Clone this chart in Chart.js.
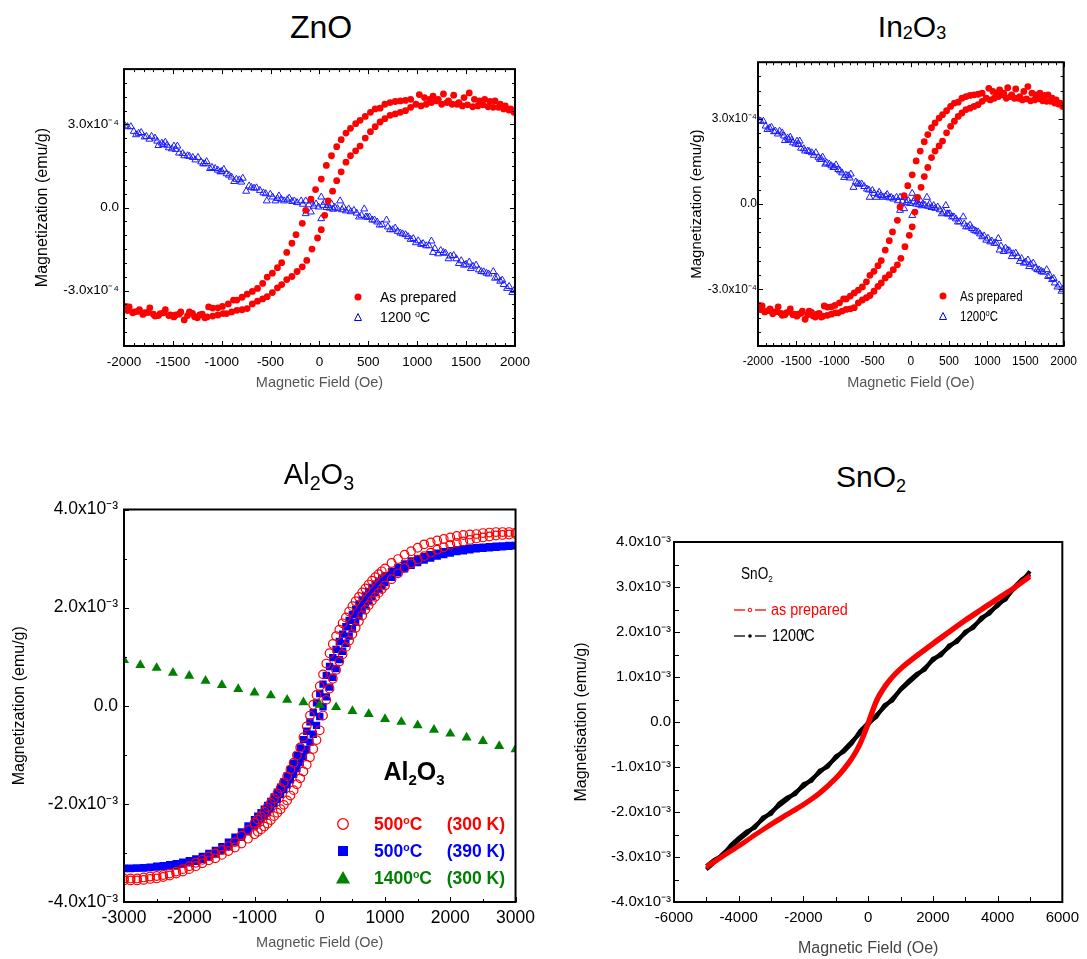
<!DOCTYPE html>
<html>
<head>
<meta charset="utf-8">
<title>Magnetization loops</title>
<script src="https://cdn.jsdelivr.net/npm/chart.js@4.4.1/dist/chart.umd.min.js"></script>
<style>
  html, body { margin: 0; background: #fff; }
  body { position: relative; width: 1087px; height: 959px; overflow: hidden;
         font-family: Arial, "Liberation Sans", sans-serif; color: #000; }
  canvas { position: absolute; }
  .lbl { position: absolute; white-space: nowrap; }
  .ttl { position: absolute; white-space: nowrap; line-height: 1; transform: translateX(-50%); }
  sub, sup { position: relative; vertical-align: baseline; line-height: 0; }
  svg.mk { position: absolute; overflow: visible; }
</style>
</head>
<body>
<canvas id="cZnO"></canvas>
<canvas id="cIn"></canvas>
<canvas id="cAl"></canvas>
<canvas id="cSn"></canvas>

<!-- panel titles -->
<div class="ttl" style="left:321px;top:11px;font-size:32px">ZnO</div>
<div class="ttl" style="left:912px;top:12px;font-size:30px">In<sub style="font-size:.6em;top:.12em">2</sub>O<sub style="font-size:.6em;top:.12em">3</sub></div>
<div class="ttl" style="left:319px;top:460px;font-size:29px">Al<sub style="font-size:.68em;top:.28em">2</sub>O<sub style="font-size:.68em;top:.28em">3</sub></div>
<div class="ttl" style="left:871px;top:462px;font-size:30px">SnO<sub style="font-size:.6em;top:.25em">2</sub></div>

<!-- ZnO legend -->
<svg class="mk" style="left:354px;top:293px" width="8" height="8"><circle cx="4" cy="4" r="3.5" fill="#f00"/></svg>
<div class="lbl" style="left:380px;top:288px;font-size:14px;line-height:18px">As prepared</div>
<svg class="mk" style="left:354px;top:313px" width="8" height="8"><polygon points="4,0.5 7.5,7.5 0.5,7.5" fill="none" stroke="#00f" stroke-width="1"/></svg>
<div class="lbl" style="left:380px;top:308px;font-size:14px;line-height:18px">1200 <sup style="font-size:.65em;top:-.55em">o</sup>C</div>

<!-- In2O3 legend -->
<svg class="mk" style="left:939px;top:292px" width="8" height="8"><circle cx="4" cy="4" r="3.5" fill="#f00"/></svg>
<div class="lbl" style="left:960px;top:287px;font-size:14px;line-height:18px;transform:scaleX(.82);transform-origin:left">As prepared</div>
<svg class="mk" style="left:939px;top:312px" width="8" height="8"><polygon points="4,0.5 7.5,7.5 0.5,7.5" fill="none" stroke="#00f" stroke-width="1"/></svg>
<div class="lbl" style="left:960px;top:307px;font-size:14px;line-height:18px;transform:scaleX(.82);transform-origin:left">1200<sup style="font-size:.65em;top:-.55em">o</sup>C</div>

<!-- Al2O3 legend -->
<div class="ttl" style="left:414px;top:759px;font-size:25px;font-weight:bold">Al<sub style="font-size:.6em;top:.35em">2</sub>O<sub style="font-size:.6em;top:.35em">3</sub></div>
<svg class="mk" style="left:337px;top:818px" width="12" height="12"><circle cx="6" cy="6" r="5.3" fill="none" stroke="#f00" stroke-width="1.3"/></svg>
<div class="lbl" style="left:374px;top:814px;font-size:17.5px;line-height:20px;font-weight:bold;color:#f00">500<sup style="font-size:.6em;top:-.6em">o</sup>C</div>
<div class="lbl" style="right:582px;top:814px;font-size:17.5px;line-height:20px;font-weight:bold;color:#f00">(300 K)</div>
<svg class="mk" style="left:338px;top:846px" width="10" height="10"><rect x="0" y="0" width="10" height="10" fill="#00f"/></svg>
<div class="lbl" style="left:374px;top:841px;font-size:17.5px;line-height:20px;font-weight:bold;color:#00f">500<sup style="font-size:.6em;top:-.6em">o</sup>C</div>
<div class="lbl" style="right:582px;top:841px;font-size:17.5px;line-height:20px;font-weight:bold;color:#00f">(390 K)</div>
<svg class="mk" style="left:336px;top:871px" width="14" height="13"><polygon points="7,0 14,12.5 0,12.5" fill="#008000"/></svg>
<div class="lbl" style="left:374px;top:868px;font-size:17.5px;line-height:20px;font-weight:bold;color:#008000">1400<sup style="font-size:.6em;top:-.6em">o</sup>C</div>
<div class="lbl" style="right:582px;top:868px;font-size:17.5px;line-height:20px;font-weight:bold;color:#008000">(300 K)</div>

<!-- SnO2 legend -->
<div class="lbl" style="left:741px;top:565px;font-size:16px;line-height:18px;transform:scaleX(.85);transform-origin:left">SnO<sub style="font-size:.6em;top:.3em">2</sub></div>
<svg class="mk" style="left:734px;top:606px" width="32" height="8">
  <line x1="0" y1="4" x2="11" y2="4" stroke="#f00" stroke-width="1.3"/>
  <line x1="21" y1="4" x2="32" y2="4" stroke="#f00" stroke-width="1.3"/>
  <circle cx="16" cy="4" r="1.8" fill="#fff" stroke="#f00" stroke-width="1"/>
</svg>
<div class="lbl" style="left:771px;top:601px;font-size:16px;line-height:18px;color:#f00;transform:scaleX(.9);transform-origin:left">as prepared</div>
<svg class="mk" style="left:734px;top:632px" width="32" height="8">
  <line x1="0" y1="4" x2="11" y2="4" stroke="#000" stroke-width="1.3"/>
  <line x1="21" y1="4" x2="32" y2="4" stroke="#000" stroke-width="1.3"/>
  <circle cx="16" cy="4" r="1.8" fill="#000"/>
</svg>
<div class="lbl" style="left:772px;top:627px;font-size:16px;line-height:18px;transform:scaleX(.9);transform-origin:left">1200<sup style="font-size:.6em;top:-.6em;margin-left:-4px;margin-right:-1px">o</sup>C</div>

<script>
// ---------- ZnO / In2O3 (same measurement), M in 1e-4 emu/g ----------
const znoDescH = [1989,1954,1901,1849,1796,1743,1690,1637,1585,1532,
  1479,1426,1373,1320,1268,1215,1162,1127,1074,1021,
  933,880,827,775,722,669,620,570,521,468,
  415,370,317,271,222,176,123,70,18,-40,
  -88,-141,-176,-240,-282,-335,-387,-430,-482,-535,
  -581,-634,-687,-740,-792,-845,-880,-933,-993,-1039,
  -1092,-1134,-1173,-1225,-1278,-1331,-1384,-1419,-1472,-1525,
  -1577,-1630,-1683,-1736,-1789,-1842,-1894,-1947,-1982];
const znoDescM = [3.50,3.56,3.67,3.73,3.85,3.83,3.91,3.85,3.91,4.14,
  3.97,3.79,4.06,3.85,4.10,3.91,4.02,3.91,3.97,4.08,
  3.91,3.87,3.85,3.83,3.79,3.73,3.59,3.56,3.44,3.29,
  3.15,3.03,2.86,2.69,2.45,2.20,1.87,1.52,1.03,0.65,
  0.30,-0.10,-0.57,-0.98,-1.29,-1.62,-1.99,-2.17,-2.37,-2.51,
  -2.74,-2.92,-3.03,-3.13,-3.24,-3.34,-3.34,-3.48,-3.57,-3.62,
  -3.63,-3.59,-3.98,-3.88,-3.94,-3.77,-4.06,-3.77,-3.88,-3.88,
  -3.69,-3.83,-3.92,-3.62,-3.80,-3.69,-3.77,-3.59,-3.57];
const znoAscH = [-1965,-1912,-1860,-1807,-1754,-1700,-1648,-1595,-1542,-1490,
  -1437,-1350,-1300,-1250,-1200,-1150,-1092,-1039,-986,-951,
  -898,-845,-792,-740,-687,-634,-581,-535,-482,-430,
  -387,-335,-282,-229,-176,-130,-77,-20,18,53,
  88,134,176,222,271,317,370,415,468,521,
  570,620,669,722,775,827,880,933,986,1039,
  1092,1145,1197,1250,1303,1356,1408,1461,1514,1567,
  1620,1672,1725,1778,1831,1884,1937,1989];
const znoAscM = [-3.72,-3.80,-3.75,-3.86,-3.79,-3.85,-3.90,-3.80,-3.90,-3.95,
  -3.85,-3.90,-3.82,-3.98,-3.85,-3.95,-3.92,-3.88,-3.83,-3.83,
  -3.77,-3.71,-3.69,-3.65,-3.48,-3.38,-3.30,-3.22,-3.07,-2.90,
  -2.78,-2.60,-2.49,-2.31,-2.14,-1.91,-1.50,-1.10,-0.80,-0.28,
  0.24,0.59,0.97,1.29,1.64,1.87,2.05,2.22,2.51,2.74,
  2.92,3.09,3.21,3.33,3.38,3.44,3.50,3.62,3.73,3.67,
  3.73,3.79,3.85,3.73,3.79,3.73,3.73,3.67,3.71,3.64,
  3.67,3.71,3.64,3.62,3.62,3.56,3.52,3.44];
const znoAnnH = [-1965,-1930,-1877,-1824,-1771,-1718,-1683,-1648,-1613,-1577,
  -1542,-1489,-1454,-1437,-1384,-1349,-1296,-1243,-1190,-1155,
  -1120,-1067,-1014,-979,-926,-873,-820,-785,-750,-697,
  -644,-574,-539,-503,-451,-415,-363,-310,-257,-187,
  -141,-141,-88,-88,-35,18,18,53,88,123,
  158,211,246,299,352,405,458,475,511,563,
  616,686,722,775,827,880,933,986,1039,1092,
  1145,1162,1215,1268,1320,1373,1426,1479,1532,1549,
  1602,1655,1708,1778,1796,1849,1884,1919,1972];
const znoAnnM = [2.92,2.92,2.63,2.71,2.57,2.57,2.51,2.24,2.33,2.36,
  2.16,2.22,2.22,1.97,1.87,1.87,1.81,1.81,1.58,1.66,
  1.41,1.41,1.29,1.38,1.17,0.94,1.00,1.06,0.59,0.73,
  0.71,0.53,0.24,0.48,0.24,0.42,0.24,0.34,0.24,0.24,
  0.24,-0.22,0.24,-0.16,0.13,0.38,-0.40,0.19,0.07,0.13,
  0.01,0.24,0.01,-0.05,-0.10,-0.34,-0.05,-0.34,-0.34,-0.45,
  -0.63,-0.45,-0.80,-0.74,-0.92,-0.98,-1.15,-1.27,-1.33,-1.38,
  -1.21,-1.62,-1.67,-1.62,-1.85,-1.73,-2.02,-2.08,-1.97,-2.20,
  -2.08,-2.31,-2.37,-2.31,-2.55,-2.66,-2.78,-2.92,-3.07];
const znoAnn2H = [-1990,-1900,-1850,-1790,-1740,-1660,-1600,-1560,-1510,-1470,
  -1400,-1330,-1270,-1210,-1170,-1100,-1040,-1000,-950,-900,
  -850,-800,-720,-670,-610,-550,-480,-430,-390,-330,
  -280,-230,-170,-110,-60,-10,35,70,105,140,
  185,230,270,320,380,430,490,540,590,640,
  700,750,800,850,905,960,1010,1060,1120,1180,
  1240,1290,1340,1400,1450,1500,1570,1630,1680,1730,
  1820,1870,1940,1990];
const znoAnn2M = [2.95,2.75,2.68,2.55,2.47,2.40,2.28,2.25,2.12,2.10,
  1.95,1.85,1.72,1.65,1.58,1.45,1.35,1.30,1.22,1.10,
  1.02,0.92,0.78,0.70,0.62,0.50,0.38,0.33,0.30,0.28,
  0.22,0.18,0.12,0.10,0.05,0.02,0.08,0.00,-0.02,-0.06,
  -0.04,-0.08,-0.12,-0.15,-0.20,-0.28,-0.35,-0.45,-0.52,-0.62,
  -0.70,-0.80,-0.86,-0.95,-1.05,-1.12,-1.20,-1.30,-1.38,-1.48,
  -1.55,-1.65,-1.75,-1.85,-1.92,-2.05,-2.12,-2.25,-2.32,-2.40,
  -2.52,-2.62,-2.85,-3.00];
const znoTicksX = [-2000,-1500,-1000,-500,0,500,1000,1500,2000];
const znoTicksY = [-3,0,3];

// ---------- Al2O3, M in 1e-3 emu/g ----------
const alField = [-3000,-2900,-2800,-2700,-2600,-2500,-2400,-2300,-2200,-2100,
  -2000,-1900,-1800,-1700,-1600,-1500,-1400,-1300,-1200,-1100,
  -1000,-900,-800,-700,-600,-500,-400,-300,-200,-100,
  0,
  100,200,300,400,500,600,700,800,900,1000,
  1100,1200,1300,1400,1500,1600,1700,1800,1900,2000,
  2100,2200,2300,2400,2500,2600,2700,2800,2900,3000];
const al500at300Desc = [-3.52,-3.52,-3.52,-3.50,-3.48,-3.47,-3.45,-3.42,-3.38,-3.33,
  -3.27,-3.20,-3.14,-3.07,-3.01,-2.94,-2.86,-2.78,-2.65,-2.53,
  -2.39,-2.25,-2.07,-1.89,-1.68,-1.44,-1.16,-0.85,-0.42,0.02,
  0.40,
  0.86,1.26,1.55,1.80,2.03,2.22,2.39,2.55,2.68,2.80,
  2.91,2.99,3.08,3.15,3.22,3.29,3.33,3.37,3.40,3.43,
  3.46,3.48,3.49,3.50,3.52,3.53,3.54,3.54,3.54,3.53];
const al500at300Asc = [-3.56,-3.56,-3.56,-3.55,-3.53,-3.52,-3.49,-3.46,-3.42,-3.38,
  -3.33,-3.27,-3.21,-3.15,-3.11,-3.04,-2.96,-2.89,-2.81,-2.71,
  -2.62,-2.52,-2.40,-2.25,-2.11,-1.93,-1.72,-1.48,-1.20,-0.88,
  -0.50,
  0.12,0.55,0.90,1.20,1.46,1.72,1.96,2.14,2.30,2.45,
  2.58,2.70,2.81,2.90,2.98,3.05,3.12,3.18,3.23,3.28,
  3.32,3.35,3.38,3.41,3.43,3.45,3.47,3.48,3.49,3.50];
const al500at390Desc = [-3.31,-3.31,-3.31,-3.30,-3.29,-3.27,-3.26,-3.24,-3.22,-3.19,
  -3.16,-3.12,-3.07,-3.01,-2.95,-2.87,-2.78,-2.68,-2.57,-2.45,
  -2.32,-2.18,-2.03,-1.86,-1.66,-1.43,-1.17,-0.86,-0.52,-0.14,
  0.25,
  0.62,0.98,1.31,1.61,1.86,2.07,2.25,2.41,2.54,2.65,
  2.74,2.82,2.89,2.95,3.00,3.04,3.08,3.11,3.14,3.16,
  3.18,3.20,3.21,3.22,3.23,3.24,3.25,3.26,3.27,3.27];
const al500at390Asc = [-3.32,-3.32,-3.31,-3.31,-3.30,-3.29,-3.28,-3.27,-3.25,-3.23,
  -3.20,-3.17,-3.13,-3.08,-3.02,-2.95,-2.87,-2.78,-2.68,-2.57,
  -2.45,-2.32,-2.17,-2.00,-1.81,-1.61,-1.40,-1.16,-0.89,-0.58,
  -0.22,
  0.18,0.58,0.94,1.27,1.57,1.83,2.05,2.23,2.38,2.51,
  2.62,2.71,2.79,2.86,2.92,2.97,3.01,3.05,3.08,3.11,
  3.14,3.16,3.18,3.20,3.21,3.22,3.23,3.24,3.25,3.26];
// extra readings in the steep central part of the loops
const alFieldMid = [-950,-850,-750,-650,-550,-450,-350,-250,-150,-50,
  50,150,250,350,450,550,650,750,850,950];
const al500at300DescMid = [-2.32,-2.16,-1.98,-1.79,-1.56,-1.30,-1.01,-0.64,-0.20,0.22,
  0.64,1.07,1.42,1.68,1.92,2.13,2.31,2.47,2.62,2.74];
const al500at300AscMid = [-2.57,-2.46,-2.33,-2.18,-2.02,-1.83,-1.60,-1.34,-1.05,-0.70,
  -0.20,0.35,0.73,1.05,1.33,1.59,1.84,2.05,2.22,2.38];
const al500at390DescMid = [-2.25,-2.11,-1.95,-1.76,-1.55,-1.30,-1.02,-0.69,-0.33,0.06,
  0.44,0.80,1.15,1.46,1.74,1.97,2.16,2.33,2.48,2.60];
const al500at390AscMid = [-2.39,-2.25,-2.09,-1.91,-1.71,-1.51,-1.28,-1.03,-0.74,-0.40,
  -0.02,0.38,0.76,1.11,1.42,1.70,1.94,2.14,2.31,2.45];
const al1400Field = [-3000,-2750,-2500,-2250,-2000,-1750,-1500,-1250,-1000,-750,-500,-250,0,
  250,500,750,1000,1250,1500,1750,2000,2250,2500,2750,3000];
const al1400M = [0.93,0.83,0.77,0.67,0.61,0.51,0.42,0.34,0.27,0.21,0.12,0.07,0.02,
  -0.03,-0.11,-0.17,-0.27,-0.33,-0.40,-0.49,-0.57,-0.65,-0.72,-0.82,-0.89];
const alTicksX = [-3000,-2000,-1000,0,1000,2000,3000];
const alTicksY = [-4,-2,0,2,4];

// ---------- SnO2, M in 1e-3 emu/g ----------
const snField = [-5000,-4500,-4000,-3500,-3000,-2500,-2000,-1500,-1000,-750,-500,-250,0,
  250,500,750,1000,1500,2000,2500,3000,3500,4000,4500,5000];
const snPrepUp = [-3.24,-3.00,-2.77,-2.52,-2.29,-2.07,-1.85,-1.60,-1.27,-1.07,-0.83,-0.52,-0.08,
  0.42,0.74,0.98,1.16,1.45,1.72,1.98,2.24,2.48,2.72,2.96,3.22];
const snPrepDown = [-3.20,-2.97,-2.74,-2.50,-2.26,-2.04,-1.82,-1.56,-1.23,-1.02,-0.78,-0.45,0.02,
  0.50,0.80,1.02,1.20,1.49,1.76,2.02,2.28,2.52,2.76,2.99,3.26];
const snAnnField = [-5000,-4750,-4500,-4250,-4000,-3750,-3500,-3250,-3000,-2750,
  -2500,-2250,-2000,-1750,-1500,-1250,-1000,-750,-500,-250,
  0,
  250,500,750,1000,1250,1500,1750,2000,2250,2500,
  2750,3000,3250,3500,3750,4000,4250,4500,4750,5000];
const snAnnUp = [-3.28,-3.12,-2.93,-2.78,-2.62,-2.48,-2.31,-2.16,-2.00,-1.86,
  -1.72,-1.56,-1.43,-1.27,-1.12,-0.96,-0.80,-0.62,-0.43,-0.25,
  -0.06,
  0.15,0.33,0.52,0.71,0.87,1.03,1.20,1.37,1.52,1.66,
  1.82,1.97,2.13,2.28,2.45,2.58,2.76,2.95,3.13,3.35];
const snAnnDown = [-3.20,-3.06,-2.97,-2.74,-2.58,-2.43,-2.35,-2.12,-2.04,-1.81,
  -1.68,-1.60,-1.38,-1.31,-1.08,-1.00,-0.76,-0.66,-0.47,-0.20,
  -0.02,
  0.11,0.37,0.48,0.73,0.91,1.07,1.16,1.41,1.48,1.70,
  1.78,2.01,2.09,2.32,2.41,2.62,2.72,2.99,3.17,3.29];
const snTicksX = [-6000,-4000,-2000,0,2000,4000,6000];
const snTicksY = [-4,-3,-2,-1,0,1,2,3,4];

Chart.defaults.font.family = "Arial, 'Liberation Sans', sans-serif";
Chart.defaults.color = '#000';

// box frame with inward ticks
const framePlugin = {
  id: 'frame',
  afterDraw(chart, args, o) {
    const { ctx, chartArea: a } = chart;
    const x = chart.scales.x, y = chart.scales.y;
    const each = (sc, step, fn) => {
      const i0 = Math.ceil(sc.min / step - 1e-6), i1 = Math.floor(sc.max / step + 1e-6);
      for (let i = i0; i <= i1; i++) fn(Math.round(sc.getPixelForValue(i * step)) + 0.5);
    };
    ctx.save();
    ctx.strokeStyle = '#000';
    ctx.lineWidth = 1;
    ctx.beginPath();
    [[o.xMinor, o.minorLen], [o.xMajor, o.majorLen]].forEach(([st, len]) => each(x, st, px => {
      ctx.moveTo(px, a.bottom); ctx.lineTo(px, a.bottom - len);
      if (o.all) { ctx.moveTo(px, a.top); ctx.lineTo(px, a.top + len); }
    }));
    [[o.yMinor, o.minorLen], [o.yMajor, o.majorLen]].forEach(([st, len]) => each(y, st, py => {
      ctx.moveTo(a.left, py); ctx.lineTo(a.left + len, py);
      if (o.all) { ctx.moveTo(a.right, py); ctx.lineTo(a.right - len, py); }
    }));
    ctx.stroke();
    ctx.lineWidth = o.lineWidth;
    ctx.strokeRect(a.left, a.top, a.right - a.left, a.bottom - a.top);
    ctx.restore();
  }
};
Chart.register(framePlugin);

const pts = (xs, ys) => xs.map((x, i) => ({ x, y: ys[i] }));

function makeChart(id, g, c) {
  const cv = document.getElementById(id);
  const w = g.R - g.L + g.yW + g.padRight, h = g.B - g.T + g.padTop + g.xH;
  cv.style.left = (g.L - g.yW) + 'px';
  cv.style.top = (g.T - g.padTop) + 'px';
  cv.width = w; cv.height = h;
  cv.style.width = w + 'px'; cv.style.height = h + 'px';
  return new Chart(cv, {
    type: 'scatter',
    data: { datasets: c.datasets },
    options: {
      responsive: false, animation: false, devicePixelRatio: 1, events: [],
      layout: { padding: { top: g.padTop, right: g.padRight, left: 0, bottom: 0 } },
      plugins: { legend: { display: false }, tooltip: { enabled: false }, frame: c.frame },
      scales: {
        x: {
          type: 'linear', min: c.x.min, max: c.x.max,
          afterFit: s => { s.height = g.xH; },
          afterBuildTicks: s => { s.ticks = c.x.ticks.map(v => ({ value: v })); },
          grid: { display: false, drawTicks: false }, border: { display: false },
          ticks: { font: { size: c.x.size }, padding: c.x.pad, maxRotation: 0, autoSkip: false,
                   callback: v => String(v) },
          title: { display: true, text: 'Magnetic Field (Oe)', color: c.x.titleColor,
                   font: { size: c.x.titleSize }, padding: 0 }
        },
        y: {
          type: 'linear', min: c.y.min, max: c.y.max,
          afterFit: s => { s.width = g.yW; },
          afterBuildTicks: s => { s.ticks = c.y.ticks.map(v => ({ value: v })); },
          grid: { display: false, drawTicks: false }, border: { display: false },
          ticks: { font: { size: c.y.size }, padding: c.y.pad, autoSkip: false,
                   callback: v => v === 0 ? '0.0' : v.toFixed(1) + c.y.exp },
          title: { display: true, text: c.y.title, font: { size: c.y.titleSize }, padding: 0 }
        }
      }
    }
  });
}

function znoSets() {
  return [
    { data: pts(znoDescH, znoDescM).concat(pts(znoAscH, znoAscM)),
      pointStyle: 'circle', pointRadius: 3.4, backgroundColor: '#ff0000', borderWidth: 0 },
    { data: pts(znoAnnH, znoAnnM).concat(pts(znoAnn2H, znoAnn2M)),
      pointStyle: 'triangle', pointRadius: 4, borderColor: '#1a1aff', borderWidth: 1,
      backgroundColor: 'rgba(255,255,255,0)' }
  ];
}

makeChart('cZnO', { L: 124, T: 61, R: 516, B: 346, yW: 91, xH: 46, padTop: 5, padRight: 22 }, {
  datasets: znoSets(),
  frame: { lineWidth: 2, all: true, xMinor: 100, xMajor: 500, yMinor: 0.5, yMajor: 3, minorLen: 3, majorLen: 5 },
  x: { min: -2000, max: 2000, ticks: znoTicksX, size: 13.5, pad: 8, titleSize: 14.5, titleColor: '#555' },
  y: { min: -5, max: 5, ticks: znoTicksY, size: 13.5, pad: 5, exp: 'x10\u207B\u2074',
       title: 'Magnetization (emu/g)', titleSize: 16 }
});

makeChart('cIn', { L: 758, T: 59, R: 1067, B: 346, yW: 70, xH: 46, padTop: 5, padRight: 18 }, {
  datasets: znoSets(),
  frame: { lineWidth: 2, all: true, xMinor: 100, xMajor: 500, yMinor: 0.5, yMajor: 3, minorLen: 3, majorLen: 5 },
  x: { min: -2000, max: 2000, ticks: znoTicksX, size: 12, pad: 8, titleSize: 14.5, titleColor: '#555' },
  y: { min: -5, max: 5, ticks: znoTicksY, size: 12, pad: 1, exp: 'x10\u207B\u2074',
       title: 'Magnetization (emu/g)', titleSize: 15 }
});

makeChart('cAl', { L: 124, T: 507, R: 519, B: 902, yW: 114, xH: 50, padTop: 14, padRight: 22 }, {
  datasets: [
    { data: pts(al1400Field, al1400M), pointStyle: 'triangle', pointRadius: 5.8,
      backgroundColor: '#008000', borderWidth: 0 },
    { data: pts(alField, al500at300Desc).concat(pts(alField, al500at300Asc),
            pts(alFieldMid, al500at300DescMid), pts(alFieldMid, al500at300AscMid)),
      pointStyle: 'circle', pointRadius: 4.3, borderColor: '#ff0000', borderWidth: 1.2,
      backgroundColor: 'rgba(255,255,255,0)' },
    { data: pts(alField, al500at390Desc).concat(pts(alField, al500at390Asc),
            pts(alFieldMid, al500at390DescMid), pts(alFieldMid, al500at390AscMid)),
      pointStyle: 'rect', pointRadius: 5.2, backgroundColor: '#0000ff', borderWidth: 0 }
  ],
  frame: { lineWidth: 2, all: false, xMinor: 500, xMajor: 1000, yMinor: 1, yMajor: 2, minorLen: 3, majorLen: 5 },
  x: { min: -3000, max: 3000, ticks: alTicksX, size: 17.5, pad: 6, titleSize: 14.5, titleColor: '#555' },
  y: { min: -4, max: 4, ticks: alTicksY, size: 17.5, pad: 6, exp: 'x10\u207B\u00B3',
       title: 'Magnetization (emu/g)', titleSize: 16 }
});

makeChart('cSn', { L: 674, T: 542, R: 1066, B: 902, yW: 102, xH: 56, padTop: 14, padRight: 20 }, {
  datasets: [
    { data: pts(snField, snPrepUp), showLine: true, borderColor: '#ff0000', borderWidth: 4,
      pointRadius: 0, cubicInterpolationMode: 'monotone' },
    { data: pts(snField, snPrepDown), showLine: true, borderColor: '#ff0000', borderWidth: 4,
      pointRadius: 0, cubicInterpolationMode: 'monotone' },
    { data: pts(snAnnField, snAnnUp), showLine: true, borderColor: '#000', borderWidth: 4,
      pointRadius: 0 },
    { data: pts(snAnnField, snAnnDown), showLine: true, borderColor: '#000', borderWidth: 4,
      pointRadius: 0 }
  ],
  frame: { lineWidth: 2, all: false, xMinor: 1000, xMajor: 2000, yMinor: 0.5, yMajor: 1, minorLen: 5, majorLen: 6 },
  x: { min: -6000, max: 6000, ticks: snTicksX, size: 15, pad: 7, titleSize: 16, titleColor: '#444' },
  y: { min: -4, max: 4, ticks: snTicksY, size: 15, pad: 3, exp: 'x10\u207B\u00B3',
       title: 'Magnetisation (emu/g)', titleSize: 16 }
});
</script>
</body>
</html>
